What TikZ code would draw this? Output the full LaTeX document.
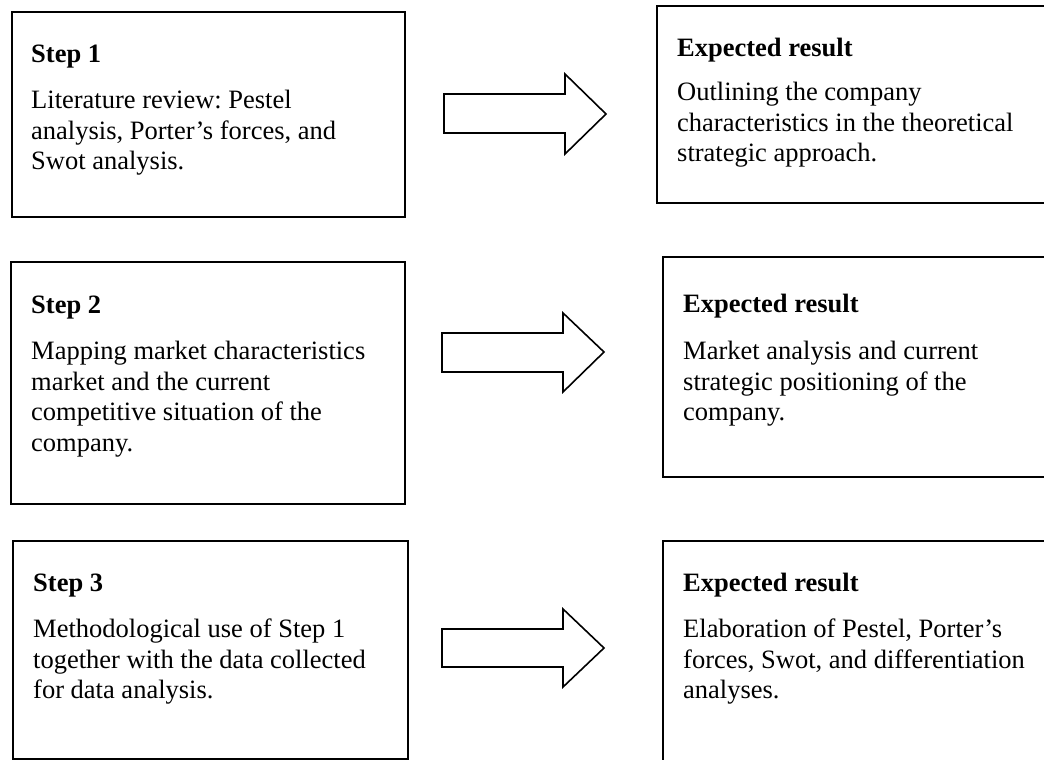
\documentclass[tikz,border=0pt]{standalone}
\usepackage{fontspec}
\setmainfont{Liberation Serif}
\frenchspacing
\begin{document}
\begin{tikzpicture}[x=1pt,y=-1pt,
  box/.style={draw=black, line width=1.8pt, inner sep=0pt, anchor=north west},
  barrow/.style={draw=black, line width=1.6pt, line join=miter},
  txt/.style={inner sep=0pt, anchor=base west, font=\fontsize{26.5}{30.5}\selectfont}]
\useasboundingbox (0,0) rectangle (1044,760);
\clip (0,0) rectangle (1044,760);

% left boxes
\node[box, minimum width=393pt, minimum height=205pt] (s1) at (11,11) {};
\node[box, minimum width=394pt, minimum height=242pt] (s2) at (10,261) {};
\node[box, minimum width=395pt, minimum height=218pt] (s3) at (12,540) {};
% right boxes
\node[box, minimum width=400pt, minimum height=197pt] (r1) at (656,5) {};
\node[box, minimum width=400pt, minimum height=220pt] (r2) at (662,256) {};
\node[box, minimum width=400pt, minimum height=235pt] (r3) at (662,540) {};

% texts
\node[txt] (s1t) at (31,63) {\parbox[t]{370pt}{\raggedright\frenchspacing\textbf{Step 1}\par\vspace{15.5pt}Literature review: Pestel\\analysis, Porter’s forces, and\\Swot analysis.}};
\node[txt] (s2t) at (31,313) {\parbox[t]{370pt}{\raggedright\frenchspacing\textbf{Step 2}\par\vspace{16pt}Mapping market characteristics\\market and the current\\competitive situation of the\\company.}};
\node[txt] (s3t) at (33,591) {\parbox[t]{370pt}{\raggedright\frenchspacing\textbf{Step 3}\par\vspace{16pt}Methodological use of Step 1\\together with the data collected\\for data analysis.}};
\node[txt] (r1t) at (677,57) {\parbox[t]{360pt}{\raggedright\frenchspacing\textbf{Expected result}\par\vspace{13pt}Outlining the company\\characteristics in the theoretical\\strategic approach.}};
\node[txt] (r2t) at (683,312) {\parbox[t]{350pt}{\raggedright\frenchspacing\textbf{Expected result}\par\vspace{17pt}Market analysis and current\\strategic positioning of the\\company.}};
\node[txt] (r3t) at (683,591) {\parbox[t]{350pt}{\raggedright\frenchspacing\textbf{Expected result}\par\vspace{16pt}Elaboration of Pestel, Porter’s\\forces, Swot, and differentiation\\analyses.}};

% block arrows
\coordinate (a1) at (606,114);
\coordinate (a2) at (604,352);
\coordinate (a3) at (604,648);
\draw[barrow] (444,94) -- (565,94) -- (565,74) -- (a1) -- (565,154) -- (565,133) -- (444,133) -- cycle;
\draw[barrow] (442,333) -- (563,333) -- (563,313) -- (a2) -- (563,392) -- (563,372) -- (442,372) -- cycle;
\draw[barrow] (442,629) -- (563,629) -- (563,609) -- (a3) -- (563,687) -- (563,667) -- (442,667) -- cycle;
\end{tikzpicture}
\end{document}
